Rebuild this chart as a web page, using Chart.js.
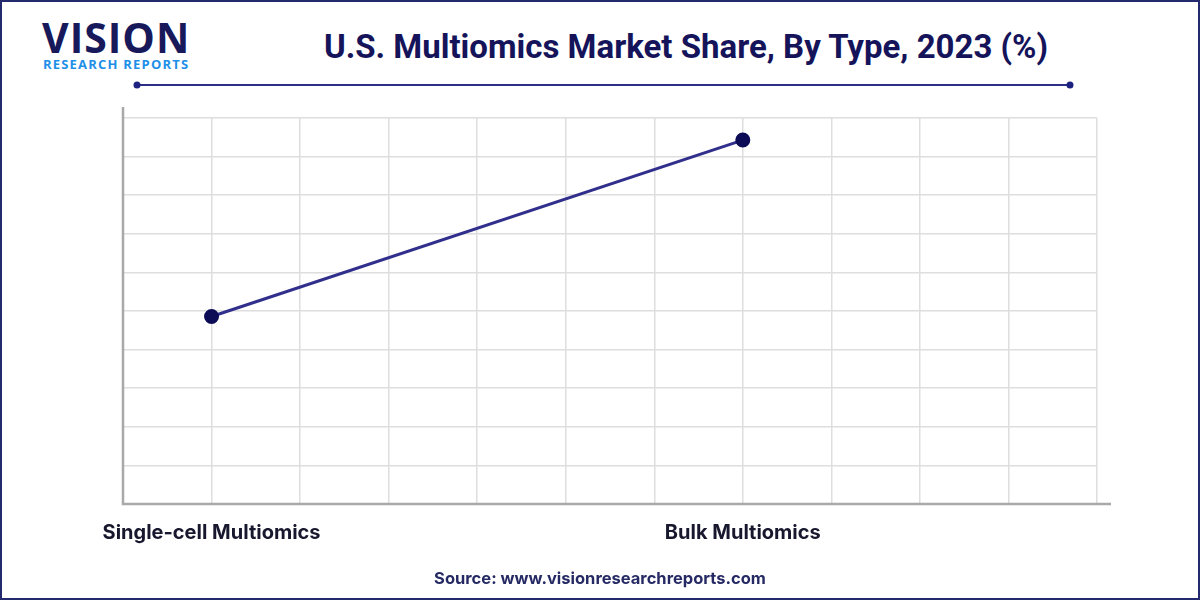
<!DOCTYPE html>
<html>
<head>
<meta charset="utf-8">
<script src="https://cdn.jsdelivr.net/npm/chart.js@4.4.0/dist/chart.umd.min.js"></script>
<style>
	body { margin: 0; background: #fff; }
	#frame {
		position: relative; width: 1200px; height: 600px; box-sizing: border-box;
		border: 2px solid #242a6e; overflow: hidden; background: #fff;
	}
	#chart { position: absolute; left: -2px; top: -2px; }
	.logo1 { position: absolute; left: 40px; top: 7px; font: 700 41px "Open Sans", sans-serif; color: #17195a; letter-spacing: 1px; }
	.logo2 { position: absolute; left: 41px; top: 53px; font: 700 13px "Open Sans", sans-serif; color: #1e8fe8; letter-spacing: 1.2px; }
	.title { position: absolute; left: 300px; width: 768px; top: 25px; text-align: center; font: 700 33px Roboto, sans-serif; color: #15145a; white-space: nowrap; }
	.source { position: absolute; left: 0; width: 1196px; top: 566px; text-align: center; font: 700 16.5px Inter, sans-serif; color: #262a64; }
</style>
</head>
<body>
<div id="frame">
	<div class="logo1">VISION</div>
	<div class="logo2">RESEARCH REPORTS</div>
	<div class="title">U.S. Multiomics Market Share, By Type, 2023 (%)</div>
	<canvas id="chart" width="1200" height="600"></canvas>
	<div class="source">Source: www.visionresearchreports.com</div>
</div>
<script>
var categories = ['Single-cell Multiomics', 'Bulk Multiomics'];
var shares = [34, 66];
var yMax = 70;
var yStep = 7;

// slots on the 11-column grid where each category sits
var slots = [1, 7];

var points = [];
for (var i = 0; i < categories.length; i++) {
	points.push({ x: slots[i], y: shares[i] });
}

// axis lines + title rule drawn by hand (they poke out past the grid)
var decorPlugin = {
	id: 'decor',
	afterDraw: function(chart) {
		var ctx = chart.ctx, a = chart.chartArea;
		ctx.save();
		ctx.strokeStyle = '#a9a9a9';
		ctx.lineWidth = 2.5;
		ctx.beginPath();
		ctx.moveTo(a.left, a.top - 11);
		ctx.lineTo(a.left, a.bottom);
		ctx.lineTo(a.right + 14, a.bottom);
		ctx.stroke();

		ctx.strokeStyle = '#2b2f86';
		ctx.fillStyle = '#1d2180';
		ctx.lineWidth = 2;
		ctx.beginPath();
		ctx.moveTo(137, 85);
		ctx.lineTo(1070, 85);
		ctx.stroke();
		ctx.beginPath(); ctx.arc(137, 85, 3.5, 0, Math.PI * 2); ctx.fill();
		ctx.beginPath(); ctx.arc(1070, 85, 3.5, 0, Math.PI * 2); ctx.fill();
		ctx.restore();
	}
};

var ctx = document.getElementById('chart');
var myChart = new Chart(ctx, {
	type: 'line',
	data: {
		datasets: [{
			label: 'Share',
			data: points,
			borderColor: '#312f8c',
			borderWidth: 3,
			pointBackgroundColor: '#0b0c55',
			pointBorderColor: '#0b0c55',
			pointRadius: 6,
			tension: 0
		}]
	},
	options: {
		responsive: false,
		animation: false,
		layout: { padding: { left: 123, right: 103, top: 118, bottom: 38 } },
		plugins: { legend: { display: false }, tooltip: { enabled: false } },
		scales: {
			x: {
				type: 'linear',
				min: 0,
				max: 11,
				border: { display: false },
				grid: { color: '#dedede', lineWidth: 1.5, drawTicks: false },
				ticks: {
					stepSize: 1,
					autoSkip: false,
					maxRotation: 0,
					padding: 17,
					color: '#17172e',
					font: { family: 'Inter', size: 20, weight: 'bold' },
					callback: function(v) {
						var k = slots.indexOf(v);
						return k >= 0 ? categories[k] : '';
					}
				}
			},
			y: {
				min: 0,
				max: yMax,
				border: { display: false },
				grid: { color: '#dedede', lineWidth: 1.5, drawTicks: false },
				ticks: { display: false, stepSize: yStep }
			}
		}
	},
	plugins: [decorPlugin]
});
</script>
</body>
</html>
